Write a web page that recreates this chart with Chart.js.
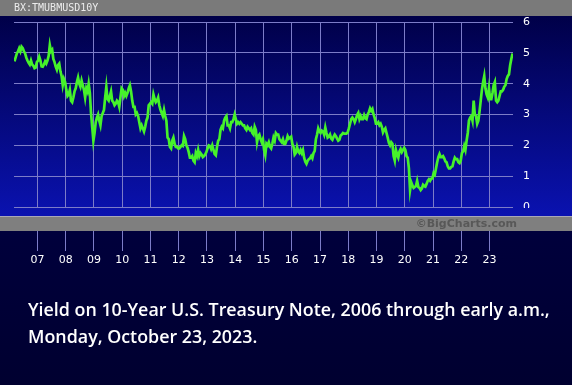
<!DOCTYPE html>
<html>
<head>
<meta charset="utf-8">
<script src="https://cdn.jsdelivr.net/npm/chart.js@4/dist/chart.umd.min.js"></script>
<style>
  html, body { margin: 0; padding: 0; background: #000033; }
  #wrap { width: 572px; height: 385px; position: relative; }
</style>
</head>
<body>
<div id="wrap"><canvas id="chart1" width="572" height="385"></canvas></div>
<script>
// 10-year yield, two readings per month, starting March 2006
var startYear = 2006
var startMonth = 2
var yields = [
  4.72, 4.85, 4.98, 5.05, 5.15, 5.05, 5.20, 5.15, 5.05, 4.98, 4.85, 4.75, 4.68, 4.62, 4.75, 4.62, 4.58, 4.50, 4.52, 4.70,
  4.75, 4.88, 4.76, 4.56, 4.55, 4.62, 4.72, 4.65, 4.75, 4.90, 5.25, 5.05, 5.10, 4.80, 4.70, 4.55, 4.45, 4.60, 4.65, 4.40, 4.25, 3.95, 4.15, 4.05,
  3.80, 3.60, 3.65, 3.80, 3.45, 3.40, 3.55, 3.75, 3.85, 4.05, 4.20, 4.00, 3.90, 4.10, 3.95, 3.80, 3.55, 3.85, 3.75, 4.00, 3.70, 3.05, 2.60, 2.15,
  2.40, 2.75, 2.90, 3.00, 2.80, 2.65, 2.95, 3.05, 3.15, 3.55, 3.90, 3.50, 3.45, 3.60, 3.75, 3.45, 3.40, 3.30, 3.35, 3.45, 3.40, 3.25, 3.55, 3.85,
  3.80, 3.60, 3.70, 3.60, 3.70, 3.85, 3.95, 3.75, 3.45, 3.25, 3.25, 3.00, 3.05, 2.95, 2.75, 2.55, 2.65, 2.55, 2.45, 2.60, 2.80, 2.90, 3.30, 3.35,
  3.40, 3.35, 3.65, 3.50, 3.40, 3.45, 3.55, 3.30, 3.15, 3.05, 2.95, 3.15, 2.95, 2.80, 2.25, 2.20, 1.95, 1.90, 2.15, 2.25, 2.05, 1.95, 1.95, 1.90,
  1.90, 1.95, 2.00, 1.98, 2.30, 2.20, 2.00, 1.92, 1.78, 1.60, 1.60, 1.65, 1.50, 1.45, 1.75, 1.65, 1.85, 1.65, 1.75, 1.70, 1.62, 1.65, 1.70, 1.78,
  1.90, 2.00, 1.98, 1.88, 2.00, 1.85, 1.72, 1.68, 1.95, 2.15, 2.20, 2.50, 2.60, 2.55, 2.80, 2.90, 2.95, 2.65, 2.65, 2.55, 2.75, 2.75, 2.85, 3.00,
  2.85, 2.70, 2.75, 2.70, 2.75, 2.70, 2.65, 2.65, 2.55, 2.50, 2.60, 2.55, 2.50, 2.55, 2.40, 2.35, 2.60, 2.50, 2.10, 2.30, 2.35, 2.20, 2.10, 2.20,
  1.85, 1.68, 2.05, 2.00, 2.10, 1.95, 1.90, 2.05, 2.25, 2.15, 2.40, 2.35, 2.35, 2.20, 2.15, 2.10, 2.20, 2.05, 2.05, 2.15, 2.30, 2.22, 2.25, 2.28,
  2.05, 1.95, 1.70, 1.75, 1.95, 1.80, 1.75, 1.85, 1.75, 1.85, 1.60, 1.47, 1.40, 1.50, 1.55, 1.58, 1.65, 1.58, 1.75, 1.82, 2.20, 2.35, 2.55, 2.45,
  2.40, 2.48, 2.45, 2.35, 2.58, 2.40, 2.25, 2.28, 2.35, 2.22, 2.18, 2.28, 2.35, 2.30, 2.22, 2.15, 2.18, 2.32, 2.35, 2.40, 2.38, 2.38, 2.38, 2.42,
  2.55, 2.70, 2.85, 2.90, 2.85, 2.75, 2.85, 2.98, 3.05, 2.85, 2.95, 2.85, 2.85, 2.98, 2.88, 2.85, 3.00, 3.08, 3.20, 3.12, 3.18, 3.00, 2.88, 2.70,
  2.70, 2.75, 2.65, 2.70, 2.60, 2.42, 2.50, 2.55, 2.40, 2.25, 2.08, 2.00, 2.10, 2.05, 1.65, 1.50, 1.85, 1.70, 1.60, 1.80, 1.88, 1.78, 1.85, 1.92,
  1.85, 1.65, 1.60, 1.25, 0.55, 0.80, 0.70, 0.62, 0.65, 0.68, 0.85, 0.65, 0.62, 0.55, 0.60, 0.72, 0.68, 0.66, 0.75, 0.85, 0.90, 0.85, 0.92, 0.93,
  1.10, 1.05, 1.25, 1.45, 1.62, 1.72, 1.62, 1.62, 1.65, 1.58, 1.48, 1.45, 1.32, 1.25, 1.25, 1.30, 1.32, 1.48, 1.60, 1.55, 1.55, 1.45, 1.42, 1.50,
  1.75, 1.80, 1.98, 1.85, 2.15, 2.40, 2.80, 2.90, 2.95, 2.80, 3.45, 3.00, 2.95, 2.70, 2.80, 3.10, 3.45, 3.80, 4.05, 4.25, 3.85, 3.65, 3.55, 3.85,
  3.50, 3.50, 3.70, 3.95, 4.05, 3.45, 3.40, 3.45, 3.60, 3.75, 3.75, 3.80, 3.90, 3.95, 4.15, 4.25, 4.30, 4.60, 4.80, 4.98
]
var tickYears = [2007, 2008, 2009, 2010, 2011, 2012, 2013, 2014, 2015, 2016, 2017, 2018, 2019, 2020, 2021, 2022, 2023]
var tickLabels = ['07', '08', '09', '10', '11', '12', '13', '14', '15', '16', '17', '18', '19', '20', '21', '22', '23']
var yTicks = [0, 1, 2, 3, 4, 5, 6]

var points = yields.map(function (v, i) {
  var m = startMonth + Math.floor(i / 2)
  return { x: startYear + (m + 0.25 + (i % 2) * 0.5) / 12, y: v }
})

var gridColor = '#7c7cc8'
var plotGrad = null

function getGrad(ctx) {
  if (!plotGrad) {
    plotGrad = ctx.createLinearGradient(0, 16, 0, 216)
    plotGrad.addColorStop(0, '#000048')
    plotGrad.addColorStop(1, '#0a12b0')
  }
  return plotGrad
}

function drawCopyrightBar(ctx) {
  ctx.fillStyle = '#7f7f7f'
  ctx.fillRect(0, 216, 572, 15)
  ctx.fillStyle = '#a8a8b8'
  ctx.fillRect(0, 216, 572, 1)
  ctx.fillStyle = '#585858'
  ctx.font = 'bold 11px "DejaVu Sans"'
  ctx.textBaseline = 'middle'
  ctx.textAlign = 'right'
  ctx.fillText('\u00a9BigCharts.com', 517, 224)
}

var backdrop = {
  id: 'backdrop',
  beforeDraw: function (chart) {
    var ctx = chart.ctx
    ctx.save()
    var low = ctx.createLinearGradient(0, 231, 0, 385)
    low.addColorStop(0, '#00003c')
    low.addColorStop(1, '#000030')
    ctx.fillStyle = low
    ctx.fillRect(0, 231, 572, 154)
    ctx.fillStyle = getGrad(ctx)
    ctx.fillRect(0, 16, 572, 200)
    ctx.fillStyle = '#7a7a7a'
    ctx.fillRect(0, 0, 572, 16)
    drawCopyrightBar(ctx)
    ctx.restore()
  },
  beforeDatasetsDraw: function (chart) {
    // hide the x tick marks where they cross the plot band and grey bar
    var ctx = chart.ctx
    ctx.save()
    ctx.fillStyle = getGrad(ctx)
    ctx.fillRect(0, 208, 572, 8)
    drawCopyrightBar(ctx)
    ctx.restore()
  },
  afterDraw: function (chart) {
    var ctx = chart.ctx
    ctx.save()
    ctx.fillStyle = '#ececec'
    ctx.font = '10px "DejaVu Sans Mono"'
    ctx.textBaseline = 'middle'
    ctx.textAlign = 'left'
    ctx.fillText('BX:TMUBMUSD10Y', 14, 8)

    var line1 = 'Yield on 10-Year U.S. Treasury Note, 2006 through early a.m.,'
    var line2 = 'Monday, October 23, 2023.'
    ctx.font = '600 17px "Open Sans"'
    var w = ctx.measureText(line1).width
    var size = 17 * 522 / w
    ctx.font = '600 ' + size.toFixed(2) + 'px "Open Sans"'
    ctx.fillStyle = '#ffffff'
    ctx.textBaseline = 'alphabetic'
    ctx.fillText(line1, 28, 316)
    ctx.fillText(line2, 28, 343)
    ctx.restore()
  }
}

var chart1Element = document.getElementById('chart1').getContext('2d')

var config1 = {
  type: 'line',
  data: {
    datasets: [
      {
        data: points,
        borderColor: '#46f22a',
        borderWidth: 2.7,
        borderJoinStyle: 'miter',
        pointRadius: 0,
        tension: 0,
        fill: false,
      },
    ],
  },
  options: {
    responsive: false,
    animation: false,
    devicePixelRatio: 1,
    layout: { padding: { left: 14, right: 39, top: 22, bottom: 118 } },
    plugins: { legend: { display: false }, tooltip: { enabled: false } },
    scales: {
      x: {
        type: 'linear',
        min: 2006.17,
        max: 2023.83,
        afterBuildTicks: function (s) {
          s.ticks = tickYears.map(function (v) { return { value: v } })
        },
        afterFit: function (s) { s.height = 60 },
        border: { display: false },
        grid: { color: gridColor, tickColor: gridColor, tickLength: 44, drawTicks: true },
        ticks: {
          autoSkip: false,
          maxRotation: 0,
          padding: 3,
          color: '#ffffff',
          font: { family: 'DejaVu Sans', size: 11 },
          callback: function (v) {
            var i = tickYears.indexOf(v)
            return i >= 0 ? tickLabels[i] : ''
          },
        },
      },
      y: {
        position: 'right',
        min: 0,
        max: 6,
        afterBuildTicks: function (s) {
          s.ticks = yTicks.map(function (v) { return { value: v } })
        },
        afterFit: function (s) { s.width = 20 },
        border: { display: false },
        grid: { color: gridColor, drawTicks: false },
        ticks: {
          padding: 10,
          color: '#ffffff',
          font: { family: 'DejaVu Sans', size: 11 },
        },
      },
    },
  },
  plugins: [backdrop],
}
var chart1 = new Chart(chart1Element, config1)
</script>
</body>
</html>
